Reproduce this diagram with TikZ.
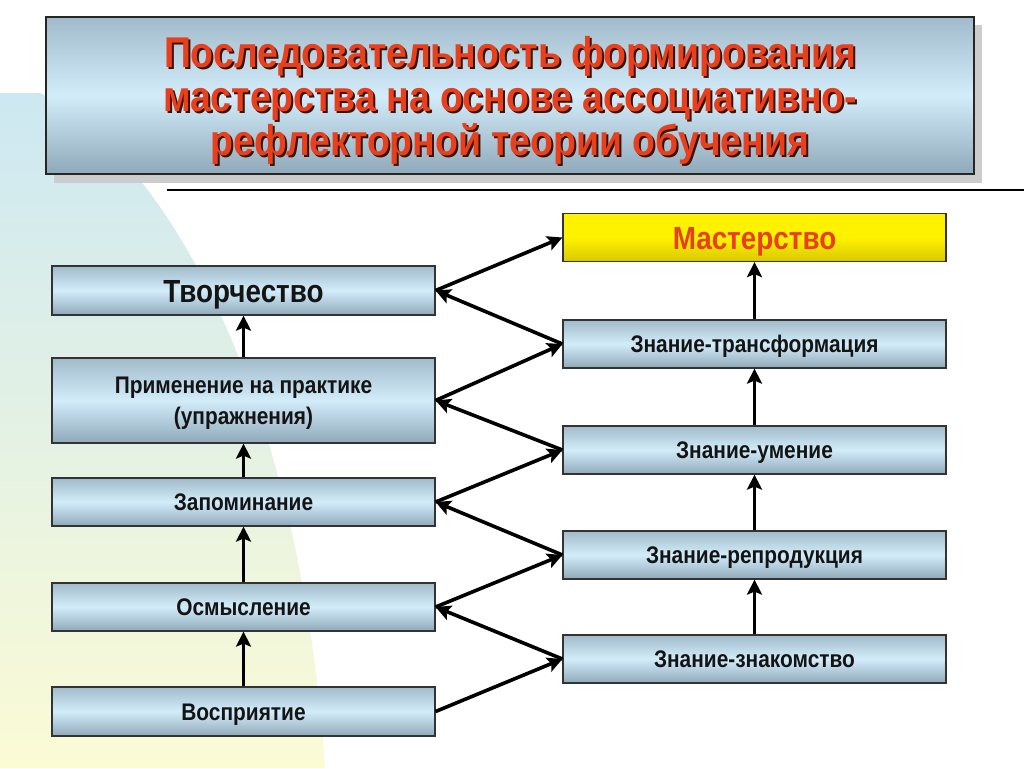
\documentclass[tikz,border=0pt]{standalone}
\usepackage{fontspec}
\setmainfont{Liberation Sans}[FakeStretch=0.87]
\usetikzlibrary{arrows.meta}
\definecolor{bxtop}{HTML}{A2BBCB}
\definecolor{bxmid}{HTML}{D2ECFA}
\definecolor{bxbot}{HTML}{8FA9BA}
\definecolor{ttl}{HTML}{E8401C}
\definecolor{ttlsh}{HTML}{3A1208}
\definecolor{bgtop}{HTML}{CDE8F2}
\definecolor{bgbot}{HTML}{FBFBD5}
\definecolor{ylw}{HTML}{FFF200}
\definecolor{ylwd}{HTML}{D8C800}
\tikzset{
  box/.style={draw=black!80, line width=1.2pt, top color=bxtop, bottom color=bxbot, middle color=bxmid,
    minimum width=383pt, minimum height=48pt, inner sep=0pt, align=center, text=black!92,
    text height=17pt, text depth=0pt,
    font=\bfseries\fontsize{24}{31}\selectfont},
  goldbox/.style={box, top color=ylw, bottom color=ylwd, middle color=ylw, text=ttl,
    text height=23pt, text depth=0pt,
    font=\bfseries\fontsize{32}{34}\selectfont},
  bigtext/.style={text height=23pt, text depth=0pt, font=\bfseries\fontsize{32}{34}\selectfont},
  arr/.style={line width=3.6pt, -{Stealth[length=15pt,width=15pt,inset=3pt]}},
  ttltext/.style={align=center, font=\bfseries\fontsize{43}{44}\selectfont, inner sep=0pt}
}
\begin{document}
\begin{tikzpicture}[x=1pt,y=-1pt]
\useasboundingbox (0,0) rectangle (1024,768);
\fill[white] (0,0) rectangle (1024,768);
% background decoration
\shade[top color=bgtop, bottom color=bgbot] (0,93) -- (40,93) .. controls (170,160) and (300,400) .. (325,768) -- (0,768) -- cycle;
% title
\fill[black!20] (54,25) rectangle (982,183);
\node[draw=black!85, line width=1.3pt, top color=bxtop, bottom color=bxbot, middle color=bxmid,
  minimum width=928pt, minimum height=157pt, inner sep=0pt] (title) at (510,95.5) {};
\node[ttltext, text=ttlsh] (titlesh) at (512,102.5) {Последовательность формирования\\мастерства на основе ассоциативно-\\рефлекторной теории обучения};
\node[ttltext, text=ttl] (titletx) at (510,100.5) {Последовательность формирования\\мастерства на основе ассоциативно-\\рефлекторной теории обучения};
\coordinate (ls) at (167,190);
\coordinate (le) at (1024,190);
\draw[line width=1.8pt] (ls) -- (le);
% left column
\node[box, bigtext, minimum height=49pt] (tv) at (243.5,290.5) {Творчество};
\node[box, minimum height=85pt, text height=48pt, text depth=0pt] (pr) at (243.5,400.5) {Применение на практике\\(упражнения)};
\node[box] (zp) at (243.5,502) {Запоминание};
\node[box] (os) at (243.5,607) {Осмысление};
\node[box, minimum height=49pt] (vs) at (243.5,711.5) {Восприятие};
% right column
\node[goldbox] (ms) at (754.5,237.5) {Мастерство};
\node[box] (tr) at (754.5,344) {Знание-трансформация};
\node[box] (um) at (754.5,450) {Знание-умение};
\node[box] (rp) at (754.5,555) {Знание-репродукция};
\node[box] (zn) at (754.5,659) {Знание-знакомство};
% vertical arrows
\draw[arr] (vs.north) -- (os.south);
\draw[arr] (os.north) -- (zp.south);
\draw[arr] (zp.north) -- (pr.south);
\draw[arr] (pr.north) -- (tv.south);
\draw[arr] (zn.north) -- (rp.south);
\draw[arr] (rp.north) -- (um.south);
\draw[arr] (um.north) -- (tr.south);
\draw[arr] (tr.north) -- (ms.south);
% diagonal arrows
\draw[arr] (vs.east) -- (zn.west);
\draw[arr] (zn.west) -- (os.east);
\draw[arr] (os.east) -- (rp.west);
\draw[arr] (rp.west) -- (zp.east);
\draw[arr] (zp.east) -- (um.west);
\draw[arr] (um.west) -- (pr.east);
\draw[arr] (pr.east) -- (tr.west);
\draw[arr] (tr.west) -- (tv.east);
\draw[arr] (tv.east) -- (ms.west);
\end{tikzpicture}
\end{document}
